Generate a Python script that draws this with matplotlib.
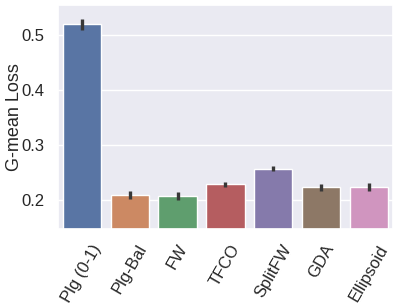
import matplotlib
matplotlib.use("Agg")
import matplotlib.pyplot as plt
import seaborn as sns
import numpy as np

sns.set_theme(style="darkgrid")
plt.rcParams['font.family'] = ['Liberation Sans', 'DejaVu Sans']

methods = ['Plg (0-1)', 'Plg-Bal', 'FW', 'TFCO', 'SplitFW', 'GDA', 'Ellipsoid']
loss_mean = [0.520, 0.2085, 0.206, 0.2285, 0.256, 0.2225, 0.223]
err_low = [0.510, 0.201, 0.200, 0.223, 0.2515, 0.2165, 0.2151]
err_high = [0.529, 0.216, 0.214, 0.233, 0.261, 0.229, 0.2303]

mean = np.array(loss_mean)
yerr = np.vstack([mean - np.array(err_low), np.array(err_high) - mean])

# seaborn barplot look: deep palette at 0.75 saturation
colors = [sns.desaturate(c, 0.75) for c in sns.color_palette("deep", len(methods))]

fig, ax = plt.subplots(figsize=(3.99, 3.08), dpi=100)
x = np.arange(len(methods))
ax.bar(x, mean, width=0.8, color=colors, edgecolor='white', linewidth=1)
ax.errorbar(x, mean, yerr=yerr, fmt='none', ecolor='#383838', elinewidth=2.4, capsize=0)

ax.set_xticks(x)
ax.set_xticklabels(methods, rotation=60, ha='center', fontsize=12)
ax.tick_params(axis='y', labelsize=12)
ax.grid(False, axis='x')
ax.set_yticks([0.2, 0.3, 0.4, 0.5])
ax.set_ylim(0.147, 0.555)
ax.set_xlim(-0.5, len(methods) - 0.5)
ax.set_ylabel('G-mean Loss', fontsize=13)
ax.yaxis.set_label_coords(-0.105, 0.5)

fig.subplots_adjust(left=0.145, right=0.985, top=0.984, bottom=0.257)
fig.savefig('out.png', dpi=100)
